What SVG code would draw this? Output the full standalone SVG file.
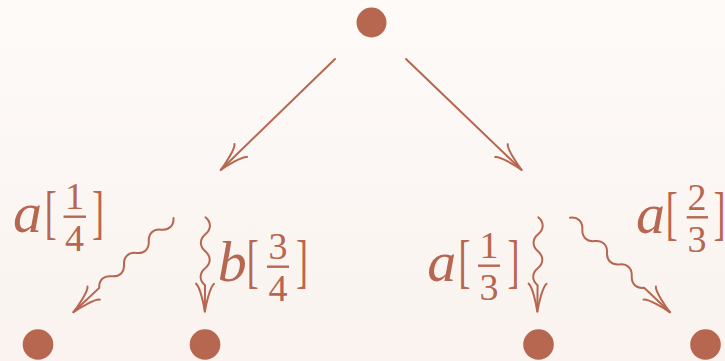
<svg xmlns="http://www.w3.org/2000/svg" width="725" height="361" viewBox="0 0 725 361">
  <defs>
    <linearGradient id="bg" x1="0" y1="0" x2="0" y2="1">
      <stop offset="0" stop-color="#fdfaf8"/>
      <stop offset="1" stop-color="#faf3ef"/>
    </linearGradient>
    <!-- curved two-barb arrow tip, tip at the origin pointing along +x -->
    <marker id="tip" markerUnits="userSpaceOnUse" markerWidth="40" markerHeight="30" viewBox="-35 -15 40 30" refX="0" refY="0" orient="auto" overflow="visible">
      <path d="M-28,-9 C-25,-5 -7,-1 0,0 C-7,1 -25,5 -28,9" fill="none" stroke="#b7664f" stroke-width="2" stroke-linecap="round"/>
    </marker>
    <style>
      .dot { fill: #b7664f; }
      .edge { fill: none; stroke: #b7664f; stroke-width: 2; stroke-linecap: round; marker-end: url(#tip); }
      .lbl text { font-family: "Liberation Serif", "DejaVu Serif", serif; fill: #b7664f; }
      .var { font-size: 58px; font-style: italic; text-anchor: start; }
      .br { font-size: 60px; text-anchor: start; }
      .fr { font-size: 38px; text-anchor: middle; }
      .bar { fill: #b7664f; }
    </style>
  </defs>

  <rect width="725" height="361" fill="url(#bg)"/>

  <!-- nodes -->
  <g id="root"><circle class="dot" cx="371.5" cy="22.5" r="15"/></g>
  <g id="leaf1"><circle class="dot" cx="38" cy="344.5" r="15.3"/></g>
  <g id="leaf2"><circle class="dot" cx="205" cy="344.5" r="15.3"/></g>
  <g id="leaf3"><circle class="dot" cx="538.5" cy="344.5" r="15.3"/></g>
  <g id="leaf4"><circle class="dot" cx="705.5" cy="344.5" r="15.3"/></g>

  <!-- connectors -->
  <g id="connectors">
    <path class="edge" d="M335,59 L220.7,170"/>
    <path class="edge" d="M406,59 L521.7,170"/>
    <!-- wavy (snake) arrows, drawn along local +x then placed -->
    <path class="edge" transform="translate(173.5,218) rotate(136.74)"
          d="M0,0 c5.1,-6 11.9,-6 17,0 s11.9,6 17,0 s11.9,-6 17,0 s11.9,6 17,0 s11.9,-6 17,0 s11.9,6 17,0 L137.6,0"/>
    <path class="edge" transform="translate(205.5,217.3) rotate(90.4)"
          d="M0,0 c5.1,-6 11.9,-6 17,0 s11.9,6 17,0 s11.9,-6 17,0 s11.9,6 17,0 L94.4,0"/>
    <path class="edge" transform="translate(538.3,217.3) rotate(90.6)"
          d="M0,0 c5.1,-6 11.9,-6 17,0 s11.9,6 17,0 s11.9,-6 17,0 s11.9,6 17,0 L94.4,0"/>
    <path class="edge" transform="translate(570,217.7) rotate(43.4)"
          d="M0,0 c5.1,-6 11.9,-6 17,0 s11.9,6 17,0 s11.9,-6 17,0 s11.9,6 17,0 s11.9,-6 17,0 s11.9,6 17,0 L137.7,0"/>
  </g>

  <!-- edge labels: variable, bracketed stacked fraction -->
  <g id="labels" class="lbl">
    <g id="lbl-a14">
      <text class="var" x="13" y="232">a</text>
      <text class="br" transform="translate(44.8,232) scale(0.6,1)">[</text>
      <text class="fr" x="74.5" y="209">1</text>
      <rect class="bar" x="63.5" y="215.5" width="22.5" height="2.4"/>
      <text class="fr" x="74.5" y="251.2">4</text>
      <text class="br" transform="translate(91.9,232) scale(0.6,1)">]</text>
    </g>
    <g id="lbl-b34">
      <text class="var" x="217.7" y="281">b</text>
      <text class="br" transform="translate(246.8,281) scale(0.6,1)">[</text>
      <text class="fr" x="278" y="259">3</text>
      <rect class="bar" x="267" y="265.5" width="22" height="2.4"/>
      <text class="fr" x="278" y="301.2">4</text>
      <text class="br" transform="translate(295.9,281) scale(0.6,1)">]</text>
    </g>
    <g id="lbl-a13">
      <text class="var" x="427.3" y="281">a</text>
      <text class="br" transform="translate(458.5,281) scale(0.6,1)">[</text>
      <text class="fr" x="489" y="258">1</text>
      <rect class="bar" x="478" y="264.5" width="22" height="2.4"/>
      <text class="fr" x="489" y="300.2">3</text>
      <text class="br" transform="translate(507.4,281) scale(0.6,1)">]</text>
    </g>
    <g id="lbl-a23">
      <text class="var" x="636" y="233">a</text>
      <text class="br" transform="translate(665.8,233) scale(0.6,1)">[</text>
      <text class="fr" x="697" y="209.6">2</text>
      <rect class="bar" x="686.7" y="216.1" width="21.3" height="2.4"/>
      <text class="fr" x="697" y="251.8">3</text>
      <text class="br" transform="translate(713.6,233) scale(0.6,1)">]</text>
    </g>
  </g>
</svg>
